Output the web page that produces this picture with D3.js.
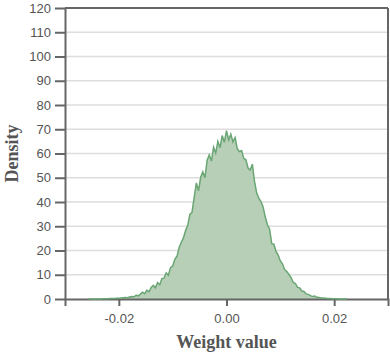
<!DOCTYPE html>
<html>
<head>
<meta charset="utf-8">
<script src="https://cdn.jsdelivr.net/npm/d3@7"></script>
<style>
  body { margin: 0; background: #fff; }
  .tick text { font-family: "Liberation Sans", Arial, sans-serif; font-size: 13px; fill: #555; }
  .axis-title { font-family: "Liberation Serif", "Times New Roman", serif; font-weight: bold; font-size: 18px; fill: #555; }
</style>
</head>
<body>
<div id="chart"></div>
<script>
// histogram bins (left edge) of the weight values
const binStart = -0.0256;
const binWidth = 0.0004;
// density per bin
const density = [
  0, 0, 0, 0, 0, 0.05, 0, 0.1, 0.1, 0.1,
  0.2, 0.2, 0.2, 0.3, 0.3, 0.4, 0.5, 0.6, 0.5, 0.8,
  1.0, 0.9, 1.5, 1.3, 2.0, 2.8, 2.2, 3.6, 3.0, 4.8,
  5.6, 4.6, 6.8, 5.9, 8.4, 8.6, 10.8, 9.8, 12.9, 13.6,
  16.4, 17.6, 21.2, 23.4, 25.2, 28.2, 30.4, 34.9, 35.8, 41.9,
  47.9, 44.6, 50.2, 52.4, 50.0, 57.2, 59.4, 56.9, 62.6, 60.2,
  65.0, 62.4, 67.4, 64.6, 69.4, 65.6, 68.0, 64.8, 66.6, 62.0,
  60.8, 61.2, 58.0, 57.4, 54.0, 53.2, 55.6, 48.6, 43.8, 41.6,
  40.2, 38.0, 33.8, 30.6, 28.9, 22.8, 22.6, 19.6, 18.1, 15.7,
  14.5, 12.2, 11.3, 10.1, 8.8, 6.8, 6.4, 4.8, 4.6, 3.3,
  3.1, 2.1, 1.9, 1.4, 1.0, 1.2, 0.7, 0.6, 0.4, 0.4,
  0.3, 0.2, 0.2, 0.1, 0.1, 0.1, 0.05, 0.05, 0, 0, 0
];
const xTicks = [-0.02, 0, 0.02];
const yTicks = [0, 10, 20, 30, 40, 50, 60, 70, 80, 90, 100, 110, 120];

const width = 390, height = 354;
const margin = { top: 8, right: 2, bottom: 55, left: 65 };
const w = width - margin.left - margin.right;
const h = height - margin.top - margin.bottom;

const svg = d3.select("#chart").append("svg")
  .attr("width", width).attr("height", height);
const g = svg.append("g").attr("transform", `translate(${margin.left},${margin.top})`);

const x = d3.scaleLinear().domain([-0.03, 0.03]).range([0, w]);
const y = d3.scaleLinear().domain([0, 120]).range([h, 0]);

// grid
g.append("g").selectAll("line")
  .data(yTicks.filter(d => d > 0 && d < 120))
  .enter().append("line")
  .attr("x1", 0).attr("x2", w)
  .attr("y1", d => y(d)).attr("y2", d => y(d))
  .attr("stroke", "#ddd").attr("stroke-width", 1.5);

const points = density.map((d, i) => ({ v: binStart + i * binWidth, d: d }));

g.append("path").datum(points)
  .attr("fill", "#b7cfb7")
  .attr("d", d3.area().x(p => x(p.v)).y0(y(0)).y1(p => y(p.d)));

// frame top/right
g.append("line").attr("x1", 0).attr("x2", w).attr("y1", 0).attr("y2", 0)
  .attr("stroke", "#666").attr("stroke-width", 2);
g.append("line").attr("x1", w).attr("x2", w).attr("y1", 0).attr("y2", h)
  .attr("stroke", "#666").attr("stroke-width", 2);

const xAxis = g.append("g").attr("transform", `translate(0,${h})`)
  .call(d3.axisBottom(x).tickValues(xTicks).tickSize(7).tickSizeOuter(7).tickFormat(d => d.toFixed(2)));
const yAxis = g.append("g")
  .call(d3.axisLeft(y).tickValues(yTicks).tickSize(10).tickSizeOuter(0).tickFormat(d3.format("d")));

[xAxis, yAxis].forEach(a => {
  a.select(".domain").attr("stroke", "#666").attr("stroke-width", 2);
  a.selectAll(".tick line").attr("stroke", "#666").attr("stroke-width", 2);
});
xAxis.selectAll(".tick text").attr("dy", "1.1em");
yAxis.selectAll(".tick text").attr("x", -14);

// outline of density on top of axes
g.append("path").datum(points)
  .attr("fill", "none")
  .attr("stroke", "#6aa674").attr("stroke-width", 1.5)
  .attr("d", d3.line().x(p => x(p.v)).y(p => y(p.d)));

svg.append("text").attr("class", "axis-title")
  .attr("text-anchor", "middle")
  .attr("x", margin.left + x(0)).attr("y", 348)
  .text("Weight value");
svg.append("text").attr("class", "axis-title")
  .attr("text-anchor", "middle")
  .attr("transform", `translate(18,${margin.top + h / 2}) rotate(-90)`)
  .text("Density");
</script>
</body>
</html>
